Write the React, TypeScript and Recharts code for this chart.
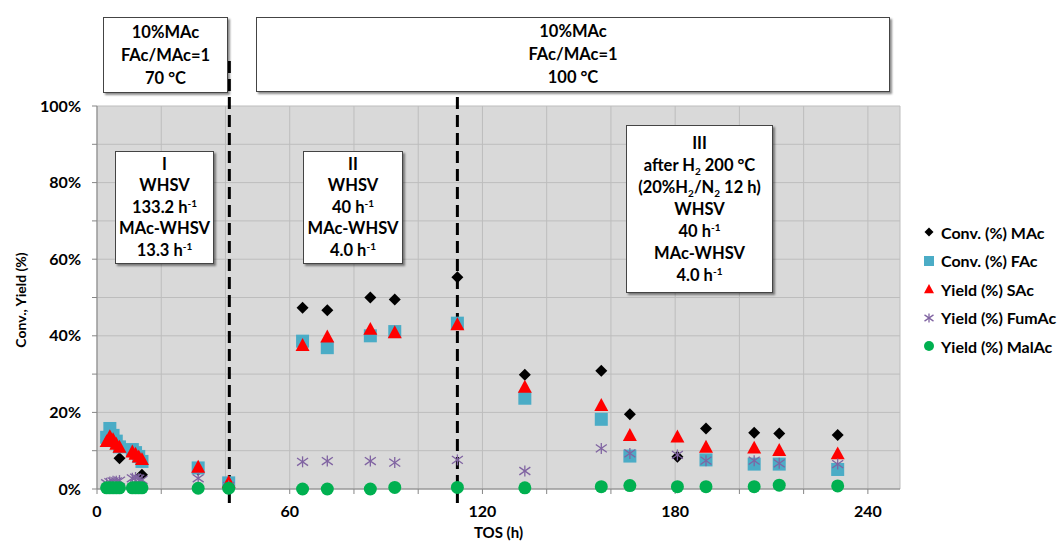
import React from 'react';
import { ScatterChart, Scatter, XAxis, YAxis, CartesianGrid, ReferenceLine, Legend } from 'recharts';

// time on stream (h), shared by all series
const tos = [3, 4, 5, 6, 7, 11, 12, 13, 14, 31.5, 41, 64, 71.7, 85.1, 92.7, 112.2, 133.2, 157, 165.9, 180.7, 189.6, 204.6, 212.4, 230.6];
const convMAc = [13, 13.5, 12.5, 11.5, 8, 9.5, 8.5, 7.5, 3.7, 5, 1, 47.3, 46.7, 50, 49.5, 55.3, 29.8, 30.9, 19.5, 8.4, 15.8, 14.7, 14.5, 14.1];
const convFAc = [13.5, 15.8, 14, 12.5, 11, 10.3, 9.5, 8.5, 7.2, 5.5, 1.6, 38.6, 36.9, 40, 41.1, 43.3, 23.7, 18.2, 8.6, null, 7.6, 6.5, 6.5, 5.1];
const yieldSAc = [12.5, 13.8, 13, 11.8, 11, 9.8, 9.2, 8.5, 7.8, 5.8, 1.8, 37.6, 39.8, 41.8, 40.9, 43, 26.7, 21.9, 14.1, 13.7, 11, 10.8, 10.2, 9.3];
const yieldFumAc = [1.5, 1.8, 2, 2, 2.2, 2.8, 3, 2.7, 2.4, 2.8, 0.8, 7.1, 7.3, 7.3, 6.9, 7.6, 4.7, 10.6, 9.3, 8.9, 7.4, 7.4, 6.7, 6.5];
const yieldMalAc = [0.3, 0.3, 0.3, 0.3, 0.3, 0.3, 0.3, 0.3, 0.3, 0.2, 0.2, 0, 0, 0, 0.4, 0.4, 0.3, 0.6, 0.9, 0.6, 0.6, 0.6, 1, 0.8];

const xTicks = [0, 20, 40, 60, 80, 100, 120, 140, 160, 180, 200, 220, 240];
const yTicks = [0, 10, 20, 30, 40, 50, 60, 70, 80, 90, 100];
const phaseBreaks = [41.2, 112.2];

const toPoints = (vals: (number | null)[]) =>
  tos.map((x, i) => ({ x, y: vals[i] })).filter((p) => p.y !== null);

const FONT = 'Lato, "Open Sans", sans-serif';

const Diamond = ({ cx, cy, r = 6 }: any) => (
  <polygon points={`${cx},${cy - r} ${cx + r},${cy} ${cx},${cy + r} ${cx - r},${cy}`} fill="#000" />
);
const Square = ({ cx, cy, s = 13 }: any) => (
  <rect x={cx - s / 2} y={cy - s / 2} width={s} height={s} fill="#4BACC6" />
);
const Triangle = ({ cx, cy, s = 7 }: any) => (
  <polygon points={`${cx},${cy - s} ${cx + s},${cy + s * 0.85} ${cx - s},${cy + s * 0.85}`} fill="#FF0000" />
);
const Star = ({ cx, cy, s = 5.5 }: any) => (
  <g stroke="#8064A2" strokeWidth={1.3}>
    <line x1={cx} y1={cy - s} x2={cx} y2={cy + s} />
    <line x1={cx - s} y1={cy - s * 0.7} x2={cx + s} y2={cy + s * 0.7} />
    <line x1={cx - s} y1={cy + s * 0.7} x2={cx + s} y2={cy - s * 0.7} />
  </g>
);
const Dot = ({ cx, cy, r = 6.5 }: any) => <circle cx={cx} cy={cy} r={r} fill="#00B050" />;

const legendItems = [
  { name: 'Conv. (%) MAc', icon: (cx: number, cy: number) => <Diamond cx={cx} cy={cy} r={4.5} /> },
  { name: 'Conv. (%) FAc', icon: (cx: number, cy: number) => <Square cx={cx} cy={cy} s={10} /> },
  { name: 'Yield (%) SAc', icon: (cx: number, cy: number) => <Triangle cx={cx} cy={cy} s={5} /> },
  { name: 'Yield (%) FumAc', icon: (cx: number, cy: number) => <Star cx={cx} cy={cy} s={4.5} /> },
  { name: 'Yield (%) MalAc', icon: (cx: number, cy: number) => <Dot cx={cx} cy={cy} r={5} /> },
];

const renderLegend = () => (
  <div style={{ fontFamily: FONT, fontWeight: 700, fontSize: 16, color: '#000' }}>
    {legendItems.map((it) => (
      <div key={it.name} style={{ display: 'flex', alignItems: 'center', height: 28.5 }}>
        <svg width={18} height={14} style={{ marginRight: 3 }}>
          {it.icon(9, 7)}
        </svg>
        <span>{it.name}</span>
      </div>
    ))}
  </div>
);

const boxStyle: React.CSSProperties = {
  position: 'absolute',
  background: '#fff',
  border: '1px solid #444',
  boxShadow: '2px 2px 2px rgba(0,0,0,0.45)',
  display: 'flex',
  flexDirection: 'column',
  justifyContent: 'center',
  alignItems: 'center',
  fontFamily: FONT,
  fontWeight: 700,
  fontSize: 16.5,
  color: '#000',
  textAlign: 'center',
  boxSizing: 'border-box',
};

const sup = { fontSize: 10, verticalAlign: 'super', lineHeight: 0 } as React.CSSProperties;
const sub = { fontSize: 10, verticalAlign: 'sub', lineHeight: 0 } as React.CSSProperties;

const DashedBreak = (props: any) => {
  const top = Math.min(props.y1, props.y2);
  const bottom = Math.max(props.y1, props.y2);
  return (
    <line x1={props.x1} x2={props.x2} y1={top - 45} y2={bottom + 14} stroke="#000" strokeWidth={3} strokeDasharray="12 6" />
  );
};

export default function App() {
  return (
    <div style={{ position: 'absolute', left: 0, top: 0, width: 1061, height: 546, background: '#fff' }}>
      <ScatterChart width={1061} height={546} margin={{ top: 106, right: 161, bottom: 27, left: 0 }}>
        <CartesianGrid fill="#D9D9D9" stroke="#BDBDBD" strokeWidth={1} />
        <XAxis
          type="number"
          dataKey="x"
          domain={[0, 250]}
          ticks={xTicks}
          interval={0}
          height={30}
          tickFormatter={(v: number) => (v % 60 === 0 ? String(v) : '')}
          tick={{ fill: '#000', fontSize: 16, fontWeight: 700, fontFamily: FONT }}
          tickSize={5}
          tickMargin={12}
          stroke="#868686"
          label={{ value: 'TOS (h)', position: 'bottom', offset: 8, fill: '#000', fontSize: 15, fontWeight: 700, fontFamily: FONT }}
        />
        <YAxis
          type="number"
          dataKey="y"
          domain={[0, 100]}
          ticks={yTicks}
          interval={0}
          width={97}
          tickFormatter={(v: number) => (v % 20 === 0 ? `${v}%` : '')}
          tick={{ fill: '#000', fontSize: 16, fontWeight: 700, fontFamily: FONT }}
          tickSize={5}
          tickMargin={11}
          stroke="#868686"
        />
        <Scatter name="Conv. (%) MAc" data={toPoints(convMAc)} isAnimationActive={false} shape={(p: any) => <Diamond cx={p.cx} cy={p.cy} />} />
        <Scatter name="Conv. (%) FAc" data={toPoints(convFAc)} isAnimationActive={false} shape={(p: any) => <Square cx={p.cx} cy={p.cy} />} />
        <Scatter name="Yield (%) SAc" data={toPoints(yieldSAc)} isAnimationActive={false} shape={(p: any) => <Triangle cx={p.cx} cy={p.cy} />} />
        <Scatter name="Yield (%) FumAc" data={toPoints(yieldFumAc)} isAnimationActive={false} shape={(p: any) => <Star cx={p.cx} cy={p.cy} />} />
        <Scatter name="Yield (%) MalAc" data={toPoints(yieldMalAc)} isAnimationActive={false} shape={(p: any) => <Dot cx={p.cx} cy={p.cy} />} />
        {phaseBreaks.map((b) => (
          <ReferenceLine key={b} x={b} ifOverflow="visible" shape={(p: any) => <DashedBreak {...p} />} />
        ))}
        <Legend
          layout="vertical"
          align="center"
          verticalAlign="middle"
          content={renderLegend}
          wrapperStyle={{ position: 'absolute', left: 920, top: 218, width: 141 }}
        />
      </ScatterChart>

      <div style={{ position: 'absolute', left: 20, top: 300, transform: 'translate(-50%, -50%) rotate(-90deg)', whiteSpace: 'nowrap', fontFamily: FONT, fontWeight: 700, fontSize: 14 }}>
        Conv., Yield (%)
      </div>

      <div style={{ ...boxStyle, left: 103, top: 17, width: 125, height: 76, lineHeight: '23px' }}>
        <div>10%MAc</div>
        <div>FAc/MAc=1</div>
        <div>70 °C</div>
      </div>
      <div style={{ ...boxStyle, left: 256, top: 17, width: 634, height: 75, lineHeight: '23px' }}>
        <div>10%MAc</div>
        <div>FAc/MAc=1</div>
        <div>100 °C</div>
      </div>
      <div style={{ ...boxStyle, left: 115, top: 151, width: 99, height: 113, lineHeight: '21.5px' }}>
        <div>I</div>
        <div>WHSV</div>
        <div>133.2 h<span style={sup}>-1</span></div>
        <div>MAc-WHSV</div>
        <div>13.3 h<span style={sup}>-1</span></div>
      </div>
      <div style={{ ...boxStyle, left: 303, top: 151, width: 100, height: 113, lineHeight: '21.5px' }}>
        <div>II</div>
        <div>WHSV</div>
        <div>40 h<span style={sup}>-1</span></div>
        <div>MAc-WHSV</div>
        <div>4.0 h<span style={sup}>-1</span></div>
      </div>
      <div style={{ ...boxStyle, left: 626, top: 125, width: 147, height: 168, lineHeight: '22px' }}>
        <div>III</div>
        <div>after H<span style={sub}>2</span> 200 °C</div>
        <div>(20%H<span style={sub}>2</span>/N<span style={sub}>2</span> 12 h)</div>
        <div>WHSV</div>
        <div>40 h<span style={sup}>-1</span></div>
        <div>MAc-WHSV</div>
        <div>4.0 h<span style={sup}>-1</span></div>
      </div>
    </div>
  );
}
